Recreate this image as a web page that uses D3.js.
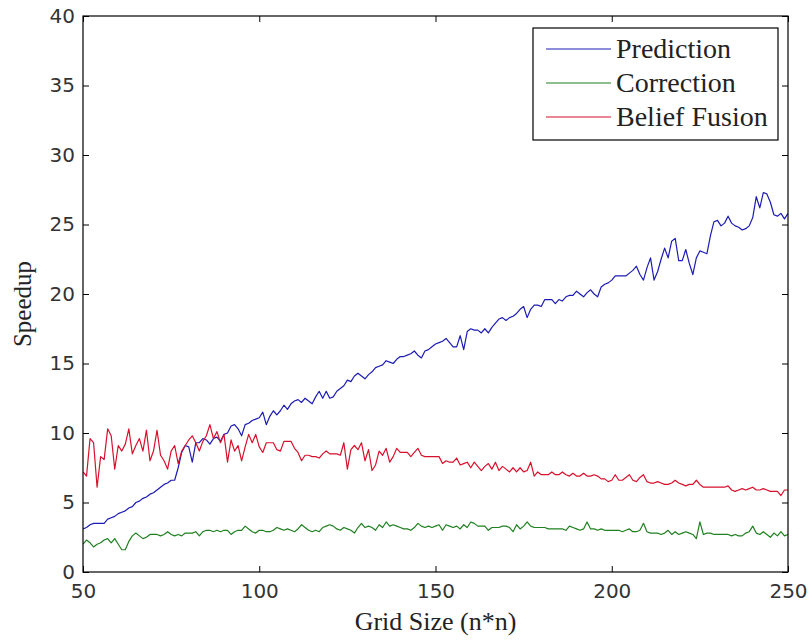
<!DOCTYPE html>
<html>
<head>
<meta charset="utf-8">
<script src="https://cdn.jsdelivr.net/npm/d3@7"></script>
<style>
  html, body { margin: 0; padding: 0; background: #ffffff; }
  svg { display: block; }
</style>
</head>
<body>
<svg id="chart" width="812" height="642"></svg>
<script>
// ---------------- data ----------------
const gridSize = d3.range(50, 251); // 50, 51, ..., 250

const prediction = [
  3.1, 3.2, 3.4, 3.5, 3.5, 3.5, 3.5, 3.8, 3.9, 4.0,
  4.2, 4.3, 4.4, 4.6, 4.7, 5.0, 5.1, 5.3, 5.4, 5.6,
  5.7, 5.9, 6.1, 6.3, 6.4, 6.6, 6.6, 7.5, 8.6, 9.1,
  9.0, 7.9, 9.3, 9.3, 9.6, 9.5, 9.2, 9.6, 9.7, 9.4,
  9.9, 10.0, 10.5, 10.6, 10.3, 9.8, 10.6, 10.7, 10.9, 11.0,
  11.1, 11.5, 10.6, 11.2, 11.6, 11.3, 11.6, 12.0, 11.7, 12.1,
  12.3, 12.4, 12.2, 12.5, 12.3, 12.1, 12.6, 13.0, 12.5, 13.0,
  12.5, 12.6, 13.0, 13.2, 13.4, 13.8, 13.7, 14.1, 14.3, 14.1,
  13.9, 14.2, 14.4, 14.7, 14.8, 14.9, 15.2, 15.1, 15.0, 15.3,
  15.5, 15.5, 15.6, 15.7, 15.9, 15.6, 15.4, 15.9, 16.0, 16.2,
  16.4, 16.5, 16.6, 16.8, 16.5, 16.2, 16.2, 17.0, 16.0, 17.3,
  17.5, 17.4, 17.4, 17.2, 17.5, 17.2, 17.6, 17.9, 18.2, 18.3,
  18.1, 18.3, 18.4, 18.6, 18.9, 19.1, 18.3, 18.9, 19.2, 19.2,
  19.1, 19.6, 19.6, 19.6, 19.3, 19.6, 19.5, 19.8, 19.9, 19.9,
  20.2, 20.0, 19.8, 20.1, 20.3, 20.0, 19.8, 20.5, 20.7, 20.8,
  21.0, 21.3, 21.3, 21.3, 21.3, 21.5, 21.7, 22.0, 21.4, 21.0,
  21.9, 22.6, 21.0, 21.6, 22.5, 23.3, 22.6, 23.8, 24.0, 22.4,
  22.4, 23.2, 22.2, 21.4, 22.6, 23.1, 23.0, 22.9, 24.2, 25.2,
  25.3, 24.9, 25.1, 25.6, 25.1, 24.9, 24.8, 24.6, 24.7, 24.9,
  25.5, 27.0, 26.2, 27.3, 27.2, 26.6, 25.7, 25.6, 25.8, 25.4,
  25.8
];

const correction = [
  2.0, 2.3, 2.1, 1.8, 2.0, 2.1, 2.3, 2.4, 2.1, 2.4,
  2.0, 1.6, 1.6, 2.2, 2.6, 2.8, 2.6, 2.4, 2.5, 2.7,
  2.7, 2.7, 2.6, 2.7, 2.9, 2.7, 2.6, 2.7, 2.6, 2.8,
  2.8, 2.8, 2.9, 2.6, 2.9, 3.0, 3.0, 2.9, 3.0, 2.9,
  3.0, 3.0, 2.7, 2.9, 3.0, 3.0, 3.3, 3.1, 2.9, 2.8,
  3.0, 3.0, 2.9, 2.9, 3.0, 3.2, 3.1, 3.0, 3.1, 3.0,
  2.9, 3.1, 3.4, 3.2, 3.0, 2.9, 3.0, 2.9, 3.2, 3.3,
  3.4, 3.3, 3.1, 3.0, 3.2, 3.1, 3.0, 2.8, 3.2, 3.5,
  3.2, 3.3, 3.2, 3.0, 3.4, 3.2, 3.6, 3.3, 3.4, 3.3,
  3.2, 3.1, 3.1, 3.0, 3.2, 3.5, 3.3, 3.2, 3.3, 3.2,
  3.3, 3.4, 3.0, 3.4, 3.3, 3.2, 3.3, 3.1, 3.4, 3.2,
  3.6, 3.5, 3.3, 3.3, 3.3, 3.0, 3.2, 3.2, 3.2, 3.3,
  3.3, 3.2, 2.9, 3.4, 3.1, 3.3, 3.6, 3.3, 3.2, 3.2,
  3.2, 3.2, 3.1, 3.1, 3.1, 3.1, 3.1, 3.0, 3.3, 3.2,
  3.1, 3.0, 3.1, 3.6, 3.1, 3.1, 3.0, 3.1, 3.0, 3.0,
  3.0, 3.0, 3.0, 2.9, 3.0, 3.1, 2.9, 2.9, 3.0, 3.5,
  2.9, 2.8, 2.8, 2.8, 2.7, 2.8, 3.0, 2.7, 2.9, 2.7,
  2.8, 2.9, 2.8, 2.7, 2.4, 3.6, 2.7, 2.8, 2.8, 2.7,
  2.7, 2.7, 2.7, 2.7, 2.6, 2.7, 2.6, 2.6, 2.8, 2.9,
  3.3, 2.8, 2.7, 2.9, 2.7, 2.5, 2.8, 2.6, 2.9, 2.6,
  2.7
];

const beliefFusion = [
  7.2, 6.9, 9.6, 9.3, 6.1, 8.3, 8.1, 10.3, 9.8, 7.4,
  9.1, 8.7, 9.2, 10.3, 8.5, 9.1, 9.6, 8.7, 10.2, 8.0,
  8.7, 10.2, 8.4, 8.0, 7.4, 8.7, 9.1, 7.8, 8.7, 9.1,
  9.5, 9.8, 9.3, 8.7, 9.4, 9.8, 10.6, 9.6, 10.1, 9.3,
  9.9, 7.9, 9.5, 8.7, 9.1, 8.0, 9.0, 9.9, 9.3, 9.9,
  9.0, 8.6, 9.3, 9.3, 9.3, 8.8, 8.7, 9.4, 9.4, 9.4,
  8.9, 8.6, 8.0, 8.4, 8.4, 8.3, 8.3, 8.2, 8.5, 8.7,
  8.5, 8.5, 8.5, 8.4, 9.3, 7.4, 8.8, 9.1, 8.8, 9.3,
  8.0, 8.8, 7.3, 7.7, 8.7, 8.4, 8.9, 7.9, 8.3, 8.9,
  8.6, 8.6, 8.6, 8.3, 8.6, 8.9, 8.4, 8.3, 8.3, 8.3,
  8.3, 8.3, 7.8, 8.0, 7.9, 7.9, 8.2, 7.7, 7.8, 7.9,
  7.5, 7.9, 7.6, 7.3, 7.6, 7.8, 7.4, 7.9, 7.3, 7.6,
  7.4, 7.2, 7.5, 7.2, 7.5, 7.2, 7.3, 7.9, 6.9, 7.2,
  7.0, 7.0, 7.0, 7.2, 7.0, 7.0, 7.2, 7.0, 6.9, 7.1,
  6.9, 6.9, 7.1, 6.9, 6.9, 7.0, 6.9, 6.7, 6.7, 6.5,
  6.6, 7.0, 6.6, 6.6, 6.8, 7.0, 6.6, 6.5, 6.8, 7.0,
  6.5, 6.4, 6.4, 6.5, 6.4, 6.3, 6.3, 6.4, 6.6, 6.4,
  6.3, 6.2, 6.3, 6.3, 6.6, 6.3, 6.1, 6.1, 6.1, 6.1,
  6.1, 6.1, 6.1, 6.2, 5.9, 5.8, 5.9, 6.0, 5.9, 6.0,
  6.1, 5.9, 5.9, 6.0, 5.9, 5.8, 5.8, 5.8, 5.5, 5.9,
  5.9
];

const seriesNames = ["Prediction", "Correction", "Belief Fusion"];
const seriesValues = [prediction, correction, beliefFusion];
const seriesColors = ["#1c1cb4", "#1f801f", "#d8102c"];

const xTicks = [50, 100, 150, 200, 250];
const yTicks = [0, 5, 10, 15, 20, 25, 30, 35, 40];
const xLabel = "Grid Size (n*n)";
const yLabel = "Speedup";

// ---------------- layout ----------------
const plotLeft = 83, plotRight = 788, plotTop = 16, plotBottom = 572;

const svg = d3.select("#chart");

const x = d3.scaleLinear().domain([50, 250]).range([plotLeft, plotRight]);
const y = d3.scaleLinear().domain([0, 40]).range([plotBottom, plotTop]);

const tickFont = "'DejaVu Sans', sans-serif";
const serifFont = "'Liberation Serif', 'Times New Roman', serif";

function styleAxis(g) {
  g.select(".domain").remove();
  g.selectAll(".tick line").attr("stroke", "#000").attr("stroke-width", 1);
  g.selectAll(".tick text")
    .attr("fill", "#333")
    .style("font-family", tickFont)
    .style("font-size", "20px");
}

svg.append("g")
  .attr("transform", `translate(0,${plotBottom})`)
  .call(d3.axisBottom(x).tickValues(xTicks).tickFormat(d3.format("d")).tickSizeInner(-6).tickSizeOuter(0).tickPadding(12))
  .call(styleAxis);

svg.append("g")
  .attr("transform", `translate(0,${plotTop})`)
  .call(d3.axisTop(x).tickValues(xTicks).tickFormat("").tickSizeInner(-6).tickSizeOuter(0))
  .call(styleAxis);

svg.append("g")
  .attr("transform", `translate(${plotLeft},0)`)
  .call(d3.axisLeft(y).tickValues(yTicks).tickFormat(d3.format("d")).tickSizeInner(-6).tickSizeOuter(0).tickPadding(8))
  .call(styleAxis);

svg.append("g")
  .attr("transform", `translate(${plotRight},0)`)
  .call(d3.axisRight(y).tickValues(yTicks).tickFormat("").tickSizeInner(-6).tickSizeOuter(0))
  .call(styleAxis);

// lines
const line = d3.line()
  .x((d, i) => x(gridSize[i]))
  .y(d => y(d));

svg.append("clipPath").attr("id", "plotclip")
  .append("rect").attr("x", plotLeft).attr("y", plotTop)
  .attr("width", plotRight - plotLeft).attr("height", plotBottom - plotTop);

svg.append("g").attr("clip-path", "url(#plotclip)")
  .selectAll("path")
  .data(seriesValues)
  .join("path")
  .attr("d", d => line(d))
  .attr("fill", "none")
  .attr("stroke", (d, i) => seriesColors[i])
  .attr("stroke-width", 1.2)
  .attr("stroke-linejoin", "round");

// box
svg.append("rect")
  .attr("x", plotLeft).attr("y", plotTop)
  .attr("width", plotRight - plotLeft).attr("height", plotBottom - plotTop)
  .attr("fill", "none").attr("stroke", "#000").attr("stroke-width", 1.2);

// axis labels
svg.append("text")
  .attr("x", (plotLeft + plotRight) / 2)
  .attr("y", 630)
  .attr("text-anchor", "middle")
  .style("font-family", serifFont)
  .style("font-size", "26px")
  .attr("fill", "#222")
  .text(xLabel);

svg.append("text")
  .attr("transform", `translate(31,${(plotTop + plotBottom) / 2 + 10}) rotate(-90)`)
  .attr("text-anchor", "middle")
  .style("font-family", serifFont)
  .style("font-size", "25px")
  .attr("fill", "#222")
  .text(yLabel);

// legend
const legend = svg.append("g");
legend.append("rect")
  .attr("x", 533).attr("y", 28).attr("width", 245).attr("height", 112)
  .attr("fill", "#fff").attr("stroke", "#000").attr("stroke-width", 1.2);

const rowY = d3.scalePoint().domain(seriesNames).range([49, 117]);
seriesNames.forEach((name, i) => {
  legend.append("line")
    .attr("x1", 546).attr("x2", 611)
    .attr("y1", rowY(name)).attr("y2", rowY(name))
    .attr("stroke", seriesColors[i]).attr("stroke-width", 1.2);
  legend.append("text")
    .attr("x", 616).attr("y", rowY(name) + 9)
    .style("font-family", serifFont)
    .style("font-size", "28px")
    .attr("fill", "#222")
    .text(name);
});
</script>
</body>
</html>
